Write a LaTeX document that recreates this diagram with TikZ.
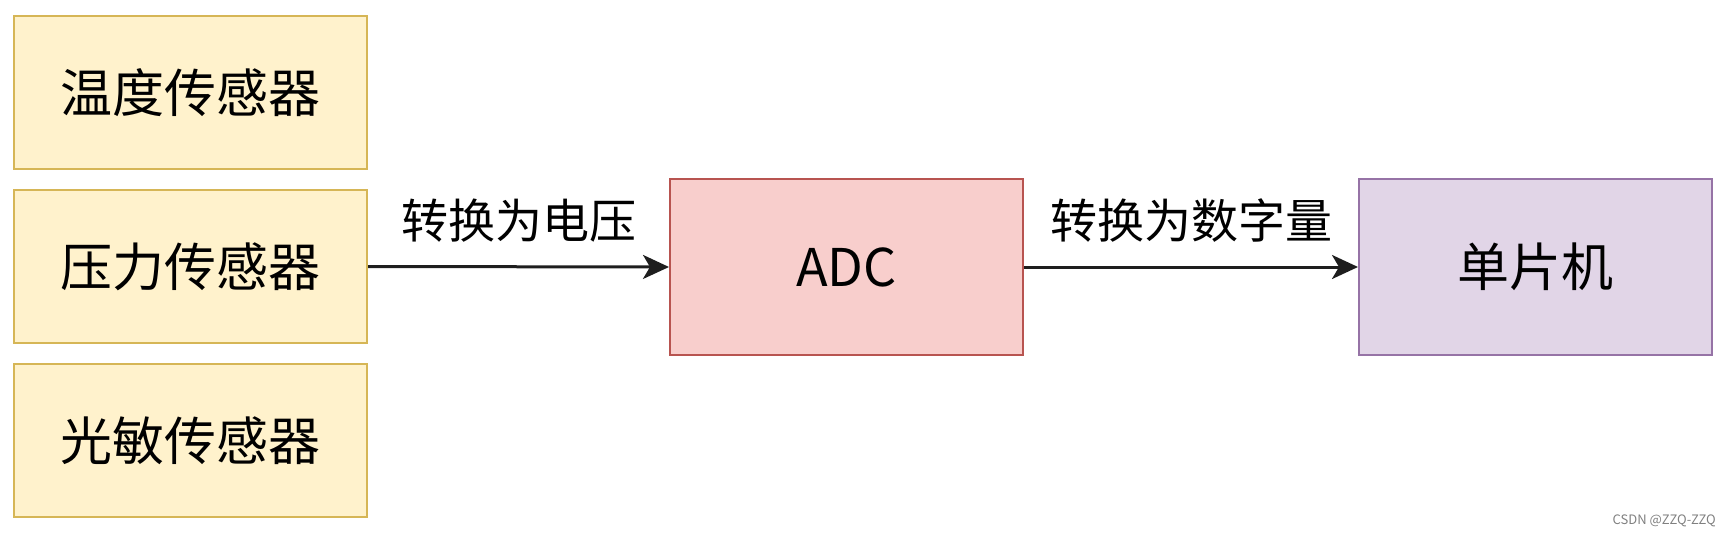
\documentclass[tikz,border=0pt]{standalone}
\usepackage{fontspec}
\setmainfont{Noto Sans CJK SC}
\usetikzlibrary{arrows.meta}
\definecolor{yfill}{HTML}{FFF2CC}
\definecolor{ydraw}{HTML}{D6B656}
\definecolor{rfill}{HTML}{F8CECC}
\definecolor{rdraw}{HTML}{B85450}
\definecolor{pfill}{HTML}{E1D5E7}
\definecolor{pdraw}{HTML}{9673A6}
\definecolor{lineclr}{HTML}{1E1E1E}
\begin{document}
\begin{tikzpicture}[x=1pt,y=-1pt,
  boxbase/.style={rectangle, line width=2pt, inner sep=0pt, minimum width=353pt,
    font=\fontsize{52}{60}\selectfont},
  sensor/.style={boxbase, draw=ydraw, fill=yfill, minimum height=153pt},
  adcbox/.style={boxbase, draw=rdraw, fill=rfill, minimum height=176pt},
  mcubox/.style={boxbase, draw=pdraw, fill=pfill, minimum height=176pt},
  arr/.style={draw=lineclr, line width=3pt, -{Stealth[length=26pt,width=24pt,inset=7pt]}},
  lbl/.style={font=\fontsize{47}{56}\selectfont, inner sep=0pt}
]
\useasboundingbox (0,0) rectangle (1730,538);
\node[sensor] (s1) at (190.5,92.5) {温度传感器};
\node[sensor] (s2) at (190.5,266.5) {压力传感器};
\node[sensor] (s3) at (190.5,440.5) {光敏传感器};
\node[adcbox] (adc) at (846.5,267) {ADC};
\node[mcubox] (mcu) at (1535.5,267) {单片机};
\draw[arr] (s2.east) -- node[midway, yshift=46pt, lbl] (l1) {转换为电压} (adc.west);
\draw[arr] (adc.east) -- node[midway, yshift=46pt, lbl] (l2) {转换为数字量} (mcu.west);
\node[anchor=east, text=gray, font=\fontsize{13}{15}\selectfont, inner sep=0pt] (wm) at (1716,521) {CSDN @ZZQ-ZZQ};
\end{tikzpicture}
\end{document}
